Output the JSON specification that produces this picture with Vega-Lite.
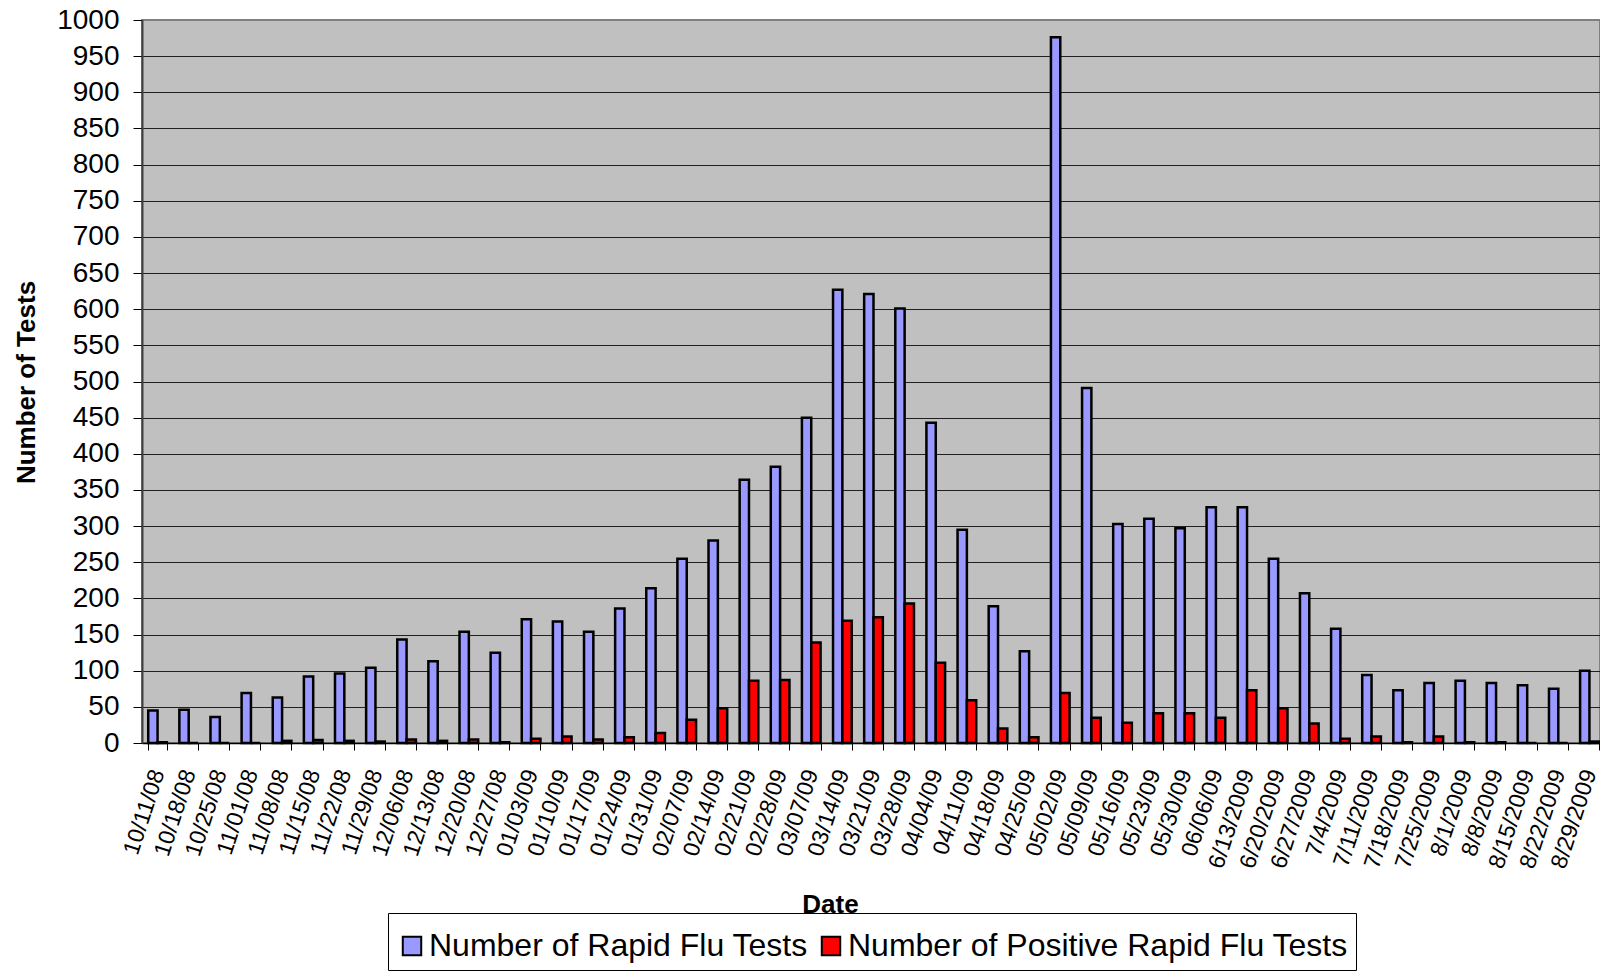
{
  "$schema": "https://vega.github.io/schema/vega-lite/v6.json",
  "width": 1458,
  "height": 723,
  "autosize": {"type": "none"},
  "padding": {"left": 142, "top": 20, "right": 0, "bottom": 230},
  "background": "white",
  "config": {
    "font": "Liberation Sans",
    "view": {"fill": "#C0C0C0", "stroke": "#808080", "strokeWidth": 2}
  },
  "data": {
    "values": [
      {"date": "10/11/08", "tests": 45, "positive": 1},
      {"date": "10/18/08", "tests": 46, "positive": 0},
      {"date": "10/25/08", "tests": 36, "positive": 0},
      {"date": "11/01/08", "tests": 69, "positive": 0},
      {"date": "11/08/08", "tests": 63, "positive": 3},
      {"date": "11/15/08", "tests": 92, "positive": 4},
      {"date": "11/22/08", "tests": 96, "positive": 3},
      {"date": "11/29/08", "tests": 104, "positive": 2},
      {"date": "12/06/08", "tests": 143, "positive": 5},
      {"date": "12/13/08", "tests": 113, "positive": 3},
      {"date": "12/20/08", "tests": 154, "positive": 5},
      {"date": "12/27/08", "tests": 125, "positive": 1},
      {"date": "01/03/09", "tests": 171, "positive": 6},
      {"date": "01/10/09", "tests": 168, "positive": 9},
      {"date": "01/17/09", "tests": 154, "positive": 5},
      {"date": "01/24/09", "tests": 186, "positive": 8},
      {"date": "01/31/09", "tests": 214, "positive": 14},
      {"date": "02/07/09", "tests": 255, "positive": 32},
      {"date": "02/14/09", "tests": 280, "positive": 48},
      {"date": "02/21/09", "tests": 364, "positive": 86},
      {"date": "02/28/09", "tests": 382, "positive": 87},
      {"date": "03/07/09", "tests": 450, "positive": 139},
      {"date": "03/14/09", "tests": 627, "positive": 169},
      {"date": "03/21/09", "tests": 621, "positive": 174},
      {"date": "03/28/09", "tests": 601, "positive": 193},
      {"date": "04/04/09", "tests": 443, "positive": 111},
      {"date": "04/11/09", "tests": 295, "positive": 59},
      {"date": "04/18/09", "tests": 189, "positive": 20},
      {"date": "04/25/09", "tests": 127, "positive": 8},
      {"date": "05/02/09", "tests": 976, "positive": 69},
      {"date": "05/09/09", "tests": 491, "positive": 35},
      {"date": "05/16/09", "tests": 303, "positive": 28},
      {"date": "05/23/09", "tests": 310, "positive": 41},
      {"date": "05/30/09", "tests": 297, "positive": 41},
      {"date": "06/06/09", "tests": 326, "positive": 35},
      {"date": "6/13/2009", "tests": 326, "positive": 73},
      {"date": "6/20/2009", "tests": 255, "positive": 48},
      {"date": "6/27/2009", "tests": 207, "positive": 27},
      {"date": "7/4/2009", "tests": 158, "positive": 6},
      {"date": "7/11/2009", "tests": 94, "positive": 9},
      {"date": "7/18/2009", "tests": 73, "positive": 1},
      {"date": "7/25/2009", "tests": 83, "positive": 9},
      {"date": "8/1/2009", "tests": 86, "positive": 1},
      {"date": "8/8/2009", "tests": 83, "positive": 1},
      {"date": "8/15/2009", "tests": 80, "positive": 0},
      {"date": "8/22/2009", "tests": 75, "positive": 0},
      {"date": "8/29/2009", "tests": 100, "positive": 2}
    ]
  },
  "transform": [
    {"fold": ["tests", "positive"], "as": ["key", "value"]},
    {"lookup": "key", "from": {"data": {"values": [
      {"key": "tests", "series": "Number of Rapid Flu Tests"},
      {"key": "positive", "series": "Number of Positive Rapid Flu Tests"}
    ]}, "key": "key", "fields": ["series"]}}
  ],
  "mark": {"type": "bar", "stroke": "black", "strokeWidth": 2.5},
  "encoding": {
    "x": {
      "field": "date",
      "type": "nominal",
      "sort": null,
      "title": "Date",
      "scale": {"paddingInner": 0.4, "paddingOuter": 0.2, "range": [0, 1463]},
      "axis": {
        "tickBand": "extent",
        "labelAngle": -72,
        "labelAlign": "right",
        "labelBaseline": "middle",
        "labelFontSize": 23,
        "labelColor": "black",
        "labelPadding": 20,
        "labelOverlap": false,
        "tickSize": 7,
        "tickColor": "black",
        "domainColor": "black",
        "domainWidth": 1.5,
        "titleFontSize": 26,
        "titleFontWeight": "bold",
        "titleColor": "black",
        "titleX": 688,
        "titleY": 169,
        "titleAlign": "center",
        "titleBaseline": "alphabetic"
      }
    },
    "xOffset": {
      "field": "series",
      "type": "nominal",
      "scale": {"domain": ["Number of Rapid Flu Tests", "Number of Positive Rapid Flu Tests"], "paddingInner": 0, "paddingOuter": 0}
    },
    "y": {
      "field": "value",
      "type": "quantitative",
      "title": "Number of Tests",
      "scale": {"domain": [0, 1000], "nice": false},
      "axis": {
        "values": [0, 50, 100, 150, 200, 250, 300, 350, 400, 450, 500, 550, 600, 650, 700, 750, 800, 850, 900, 950, 1000],
        "format": "d",
        "labelFontSize": 28,
        "labelColor": "black",
        "labelPadding": 14,
        "tickSize": 9,
        "tickColor": "black",
        "domainColor": "#404040",
        "domainWidth": 2,
        "grid": true,
        "gridColor": {"condition": {"test": "datum.value == 1000", "value": "#808080"}, "value": "#202020"},
        "gridWidth": 1.2,
        "titleFontSize": 26,
        "titleFontWeight": "bold",
        "titleColor": "black",
        "titleAngle": -90,
        "titleX": -116,
        "titleY": 362,
        "titleAlign": "center",
        "titleBaseline": "middle"
      }
    },
    "color": {
      "field": "series",
      "type": "nominal",
      "scale": {"domain": ["Number of Rapid Flu Tests", "Number of Positive Rapid Flu Tests"], "range": ["#9999FF", "#FF0000"]},
      "legend": {
        "title": " ",
        "titleFontSize": 9,
        "titlePadding": 0,
        "orient": "none",
        "legendX": 246,
        "legendY": 893,
        "direction": "horizontal",
        "strokeColor": "black",
        "fillColor": "white",
        "padding": 8,
        "labelFontSize": 32,
        "labelColor": "black",
        "labelLimit": 1000,
        "labelOffset": 1,
        "columnPadding": 7,
        "symbolType": "square",
        "symbolSize": 340,
        "symbolStrokeColor": "black",
        "symbolStrokeWidth": 2,
        "symbolOpacity": 1
      }
    }
  }
}
